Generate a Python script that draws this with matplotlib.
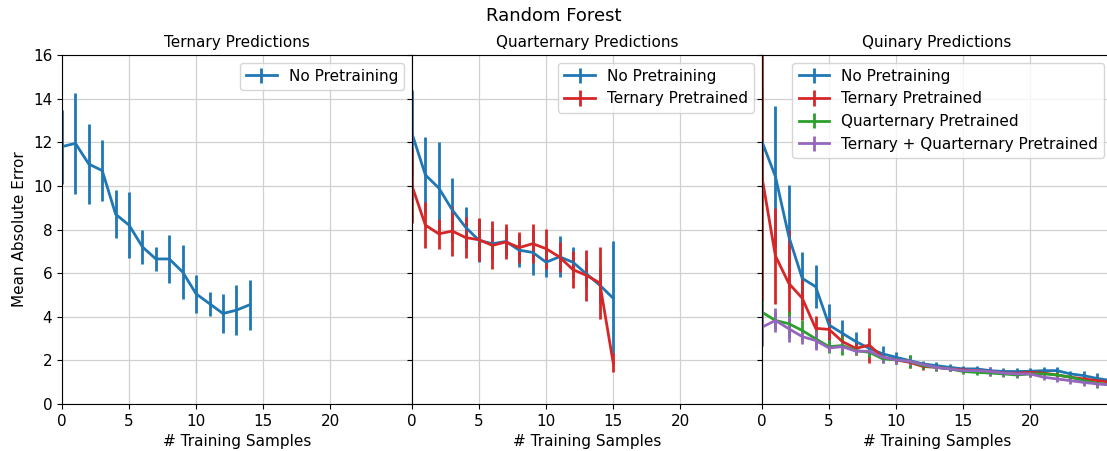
import matplotlib
matplotlib.use("Agg")
import matplotlib.pyplot as plt

# Ternary predictions (x = # training samples)
ter_x = list(range(15))
ter_none = [11.8, 11.95, 11.0, 10.7, 8.7, 8.2, 7.2, 6.65, 6.65, 6.05, 5.05, 4.6, 4.15, 4.3, 4.55]
ter_none_err = [1.7, 2.3, 1.85, 1.4, 1.1, 1.5, 0.8, 0.55, 1.1, 1.25, 0.87, 0.55, 0.9, 1.15, 1.15]

# Quarternary predictions
quat_x = list(range(16))
quat_none = [12.4, 10.5, 9.9, 8.9, 8.1, 7.5, 7.35, 7.45, 7.05, 6.95, 6.5, 6.75, 6.5, 5.97, 5.45, 4.85]
quat_none_err = [2.0, 1.75, 2.1, 1.45, 0.95, 1.0, 0.7, 0.6, 0.75, 1.05, 0.7, 0.95, 0.7, 0.6, 0.8, 2.6]
quat_ter = [10.0, 8.2, 7.8, 7.93, 7.63, 7.53, 7.27, 7.43, 7.17, 7.35, 7.12, 6.74, 6.16, 5.9, 5.55, 1.9]
quat_ter_err = [1.7, 1.07, 0.7, 1.13, 0.95, 0.98, 1.1, 0.8, 0.7, 0.88, 0.92, 0.7, 0.85, 1.16, 1.65, 0.45]

# Quinary predictions
quin_x = list(range(27))
quin_none = [12.03, 10.43, 7.68, 5.76, 5.38, 3.62, 3.24, 2.86, 2.55, 2.3, 2.14, 1.99, 1.84, 1.76,
             1.68, 1.61, 1.61, 1.53, 1.49, 1.49, 1.5, 1.53, 1.53, 1.38, 1.3, 1.17, 1.08]
quin_none_err = [2.5, 3.24, 2.37, 1.23, 0.97, 0.95, 0.6, 0.45, 0.3, 0.38, 0.25, 0.25, 0.15, 0.15,
                 0.15, 0.15, 0.15, 0.15, 0.15, 0.15, 0.15, 0.15, 0.15, 0.15, 0.2, 0.25, 0.2]
quin_ter = [10.4, 6.79, 5.53, 4.85, 3.47, 3.42, 2.86, 2.55, 2.7, 2.14, 2.02, 1.91, 1.72, 1.68,
            1.61, 1.56, 1.53, 1.49, 1.42, 1.41, 1.45, 1.42, 1.33, 1.23, 1.15, 1.07, 1.0]
quin_ter_err = [5.7, 2.2, 2.45, 1.0, 0.55, 0.5, 0.3, 0.3, 0.8, 0.2, 0.2, 0.25, 0.15, 0.15,
                0.12, 0.12, 0.12, 0.12, 0.12, 0.12, 0.12, 0.12, 0.12, 0.12, 0.15, 0.15, 0.15]
quin_quat = [4.21, 3.83, 3.68, 3.37, 2.99, 2.63, 2.68, 2.45, 2.37, 2.07, 2.02, 1.96, 1.76, 1.68,
             1.61, 1.49, 1.45, 1.42, 1.38, 1.33, 1.38, 1.38, 1.33, 1.23, 1.07, 0.95, 0.88]
quin_quat_err = [0.55, 0.4, 0.6, 0.5, 0.4, 0.3, 0.45, 0.2, 0.2, 0.2, 0.2, 0.3, 0.15, 0.15,
                 0.12, 0.12, 0.12, 0.12, 0.12, 0.12, 0.12, 0.12, 0.12, 0.12, 0.15, 0.2, 0.15]
quin_both = [3.52, 3.83, 3.45, 3.09, 2.91, 2.57, 2.63, 2.42, 2.42, 2.14, 2.02, 1.96, 1.81, 1.68,
             1.61, 1.53, 1.53, 1.49, 1.42, 1.38, 1.38, 1.23, 1.15, 1.07, 0.99, 0.92, 0.88]
quin_both_err = [0.88, 0.55, 0.6, 0.35, 0.45, 0.2, 0.2, 0.15, 0.15, 0.25, 0.2, 0.15, 0.1, 0.12,
                 0.12, 0.12, 0.12, 0.2, 0.12, 0.12, 0.12, 0.15, 0.15, 0.15, 0.15, 0.15, 0.15]

titles = ["Ternary Predictions", "Quarternary Predictions", "Quinary Predictions"]

plt.rcParams.update({"font.size": 11})

W, H = 1107, 451
fig = plt.figure(figsize=(W / 100, H / 100), dpi=100)
left, bottom, aw, ah = 62 / W, 47 / H, 350 / W, 349 / H
ax0 = fig.add_axes([left, bottom, aw, ah])
ax1 = fig.add_axes([left + aw, bottom, aw, ah], sharey=ax0)
ax2 = fig.add_axes([left + 2 * aw, bottom, aw, ah], sharey=ax0)
axes = [ax0, ax1, ax2]

kw = dict(lw=2, elinewidth=2, capsize=0)
ax0.errorbar(ter_x, ter_none, yerr=ter_none_err, color="tab:blue", label="No Pretraining", **kw)

ax1.errorbar(quat_x, quat_none, yerr=quat_none_err, color="tab:blue", label="No Pretraining", **kw)
ax1.errorbar(quat_x, quat_ter, yerr=quat_ter_err, color="tab:red", label="Ternary Pretrained", **kw)

ax2.errorbar(quin_x, quin_none, yerr=quin_none_err, color="tab:blue", label="No Pretraining", **kw)
ax2.errorbar(quin_x, quin_ter, yerr=quin_ter_err, color="tab:red", label="Ternary Pretrained", **kw)
ax2.errorbar(quin_x, quin_quat, yerr=quin_quat_err, color="tab:green",
             label="Quarternary Pretrained", **kw)
ax2.errorbar(quin_x, quin_both, yerr=quin_both_err, color="tab:purple",
             label="Ternary + Quarternary Pretrained", **kw)

for ax, t in zip(axes, titles):
    ax.set_title(t, fontsize=11)
    ax.set_xlim(0, 26.1)
    ax.set_xticks([0, 5, 10, 15, 20])
    ax.set_xlabel("# Training Samples")
    ax.grid(True, color="#d0d0d0", lw=0.9)
    ax.legend(loc="upper right")
for ax in axes[1:]:
    ax.tick_params(labelleft=False)

ax0.set_ylim(0, 16)
ax0.set_yticks(range(0, 17, 2))
ax0.set_ylabel("Mean Absolute Error")

fig.suptitle("Random Forest", fontsize=13, y=0.985)

fig.savefig("out.png", dpi=100)
